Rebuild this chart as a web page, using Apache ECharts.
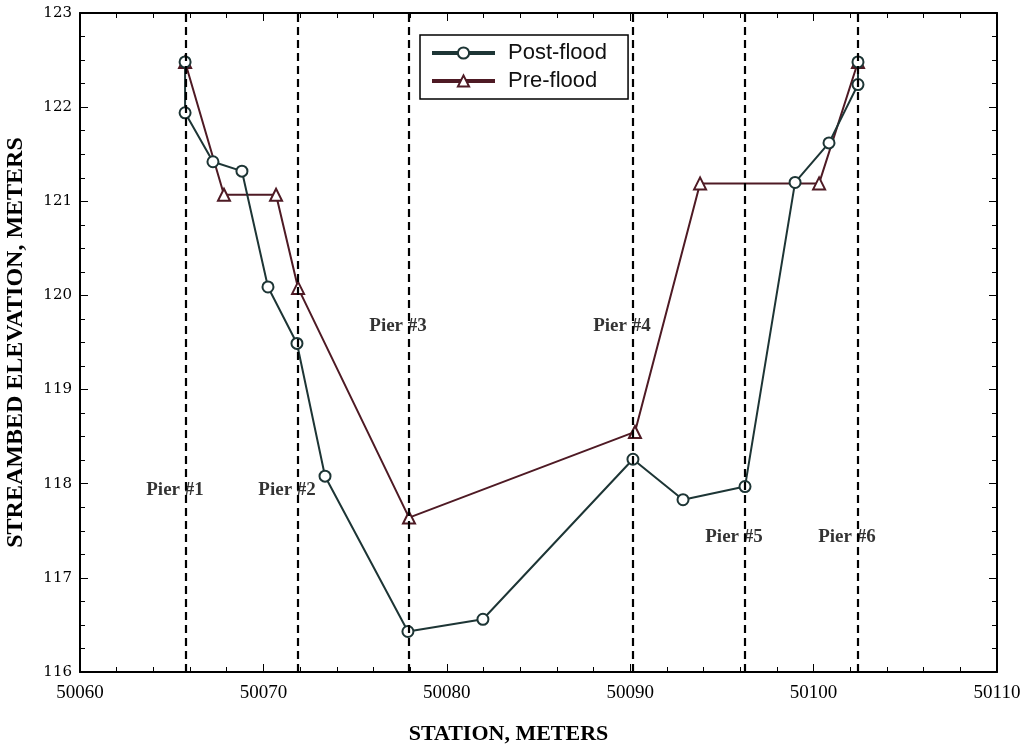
<!DOCTYPE html>
<html>
<head>
<meta charset="utf-8">
<script src="https://cdn.jsdelivr.net/npm/echarts@6/dist/echarts.min.js"></script>
<style>
  html, body { margin: 0; padding: 0; background: #fff; }
  #chart { width: 1034px; height: 747px; }
</style>
</head>
<body>
<div id="chart"></div>
<script>
// 测站 / 高程
var postStation = [50065.73, 50065.73, 50067.25, 50068.83, 50070.25, 50071.83, 50073.36, 50077.88, 50081.97, 50090.15, 50092.88, 50096.26, 50098.99, 50100.84, 50102.42, 50102.42];
var postElev    = [122.48, 121.94, 121.42, 121.32, 120.09, 119.49, 118.08, 116.43, 116.56, 118.26, 117.83, 117.97, 121.20, 121.62, 122.24, 122.48];
var preStation  = [50065.73, 50067.85, 50070.69, 50071.89, 50077.94, 50090.26, 50093.81, 50100.30, 50102.42];
var preElev     = [122.48, 121.07, 121.07, 120.08, 117.64, 118.55, 121.19, 121.19, 122.48];
var pierStation = [50065.78, 50071.89, 50077.94, 50090.15, 50096.26, 50102.42];
var pierNames   = ['Pier #1', 'Pier #2', 'Pier #3', 'Pier #4', 'Pier #5', 'Pier #6'];
var pierLabelElev = [117.93, 117.93, 119.67, 119.67, 117.43, 117.43];

var myChart = echarts.init(document.getElementById('chart'));

var zip = function (xs, ys) {
  return xs.map(function (x, i) { return [x, ys[i]]; });
};

var axisCommon = {
  type: 'value',
  axisLine: { show: true, onZero: false, lineStyle: { color: '#000', width: 2 } },
  axisTick: { show: true, inside: true, length: 8, lineStyle: { color: '#000', width: 1 } },
  minorTick: { show: true, splitNumber: 5, length: 5, lineStyle: { color: '#000' } },
  splitLine: { show: false }
};

var option = {
  backgroundColor: '#fff',
  animation: false,
  grid: { left: 80, right: 37, top: 13, bottom: 75, outerBoundsMode: 'none' },
  legend: {
    left: 420,
    top: 35,
    orient: 'vertical',
    padding: [7, 21, 7, 10],
    itemGap: 6,
    itemWidth: 63,
    itemHeight: 14,
    borderColor: '#000',
    borderWidth: 1.5,
    lineStyle: { width: 4 },
    textStyle: { fontFamily: 'Liberation Sans', fontSize: 22, color: '#111', padding: [0, 0, 0, 8] },
    data: ['Post-flood', 'Pre-flood']
  },
  xAxis: [
    Object.assign({}, axisCommon, {
      min: 50060, max: 50110, interval: 10,
      name: 'STATION, METERS',
      nameLocation: 'middle',
      nameGap: 51,
      nameTextStyle: { fontFamily: 'Liberation Serif', fontWeight: 'bold', fontSize: 22, color: '#000', padding: [0, 60, 0, 0] },
      axisLabel: {
        margin: 12, fontFamily: 'Liberation Serif', fontSize: 19, color: '#000',
        formatter: function (v) { return String(v); }
      }
    }),
    Object.assign({}, axisCommon, {
      position: 'top', min: 50060, max: 50110, interval: 10,
      axisLabel: { show: false }
    })
  ],
  yAxis: [
    Object.assign({}, axisCommon, {
      min: 116, max: 123, interval: 1,
      minorTick: { show: true, splitNumber: 4, length: 5, lineStyle: { color: '#000' } },
      name: 'STREAMBED ELEVATION, METERS',
      nameLocation: 'middle',
      nameGap: 52,
      nameTextStyle: { fontFamily: 'Liberation Serif', fontWeight: 'bold', fontSize: 24, color: '#000' },
      axisLabel: { margin: 8, fontFamily: 'DejaVu Serif', fontSize: 15, color: '#000' }
    }),
    Object.assign({}, axisCommon, {
      position: 'right', min: 116, max: 123, interval: 1,
      minorTick: { show: true, splitNumber: 4, length: 5, lineStyle: { color: '#000' } },
      axisLabel: { show: false }
    })
  ],
  series: [
    {
      name: 'Post-flood',
      type: 'line',
      data: zip(postStation, postElev),
      symbol: 'emptyCircle',
      symbolSize: 11,
      lineStyle: { color: '#1d3535', width: 2 },
      itemStyle: { color: '#1d3535', borderWidth: 1.3 },
      z: 4,
      markLine: {
        silent: true,
        symbol: 'none',
        label: { show: false },
        lineStyle: { color: '#000', type: [8, 5], width: 2.2 },
        data: pierStation.map(function (x) { return { xAxis: x }; })
      }
    },
    {
      name: 'Pre-flood',
      type: 'line',
      data: zip(preStation, preElev),
      symbol: 'emptyTriangle',
      symbolSize: 12,
      lineStyle: { color: '#4e1a24', width: 2 },
      itemStyle: { color: '#4e1a24', borderWidth: 1.3 },
      z: 3
    },
    {
      // 桥墩标注
      name: 'piers',
      type: 'scatter',
      symbolSize: 0,
      silent: true,
      data: pierStation.map(function (x, i) { return { value: [x, pierLabelElev[i]], name: pierNames[i] }; }),
      label: {
        show: true,
        position: 'inside',
        offset: [-11, 0],
        formatter: '{b}',
        fontFamily: 'Liberation Serif',
        fontWeight: 'bold',
        fontSize: 19,
        color: '#000'
      },
      z: 5
    }
  ]
};

myChart.setOption(option);
</script>
</body>
</html>
